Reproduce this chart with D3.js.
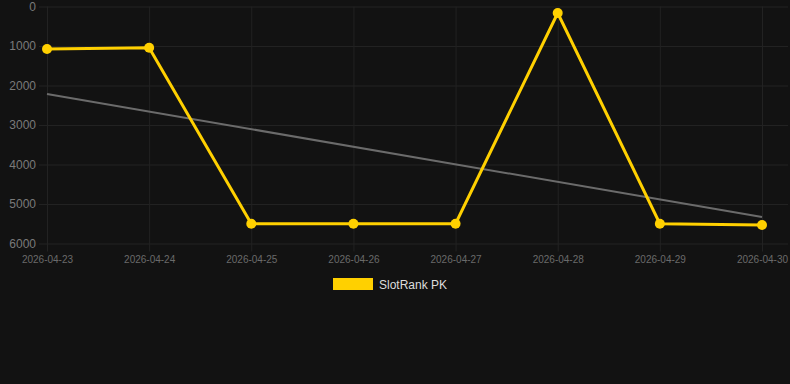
<!DOCTYPE html>
<html lang="en">
<head>
<meta charset="UTF-8"/>
<title>SlotRank PK</title>
<script src="https://d3js.org/d3.v7.min.js"></script>
<style>
    body { margin: 0; background: #121212; }
    .axis text { font-family: "Liberation Sans", Arial, sans-serif; }
    .axis path { display: none; }
    .axis line { stroke: #222222; }
</style>
</head>
<body>
<div id="chart"></div>
<script>
    var dates = ["2026-04-23", "2026-04-24", "2026-04-25", "2026-04-26", "2026-04-27", "2026-04-28", "2026-04-29", "2026-04-30"];
    var ranks = [1075, 1045, 5500, 5500, 5500, 165, 5500, 5530];
    var trend = [2215, 5330];
    var yTicks = [0, 1000, 2000, 3000, 4000, 5000, 6000];
    var seriesName = "SlotRank PK";

    var w = 790, h = 384;
    var padLeft = 47, padRight = 762, padTop = 6.5, padBottom = 243.5;

    let svg = d3.select("#chart").append("svg")
        .attr("width", w).attr("height", h);
    svg.append("rect").attr("width", w).attr("height", h).attr("fill", "#121212");

    let xScale = d3.scalePoint().domain(dates).range([padLeft, padRight]);
    let yScale = d3.scaleLinear().domain([0, 6000]).range([padTop, padBottom]);

    // horizontal grid + y labels
    let gridW = w - 2 - padLeft + 8;
    let yAxis = d3.axisLeft(yScale).tickValues(yTicks).tickFormat(d3.format("d"))
        .tickSize(0).tickPadding(0);
    let gy = svg.append("g").attr("class", "axis")
        .attr("transform", `translate(${padLeft - 8}, 0)`)
        .call(yAxis);
    gy.selectAll("line").attr("x1", 0).attr("x2", gridW);
    gy.selectAll("text").attr("fill", "#7a7a7a").attr("font-size", 12).attr("x", -3);

    // vertical grid + x labels
    let xAxis = d3.axisBottom(xScale).tickSize(0).tickPadding(0);
    let gx = svg.append("g").attr("class", "axis")
        .attr("transform", `translate(0, ${padBottom})`)
        .call(xAxis);
    gx.selectAll("line").attr("y1", 8).attr("y2", -(padBottom - padTop));
    gx.selectAll("text").attr("fill", "#6a6a6a").attr("font-size", 10).attr("y", 12);

    // trend line
    svg.append("line")
        .attr("x1", xScale(dates[0])).attr("y1", yScale(trend[0]))
        .attr("x2", xScale(dates[dates.length - 1])).attr("y2", yScale(trend[1]))
        .attr("stroke", "#6b6b6b").attr("stroke-width", 2);

    let line = d3.line()
        .x((d, i) => xScale(dates[i]))
        .y(d => yScale(d));
    svg.append("path").datum(ranks)
        .attr("d", line)
        .attr("fill", "none")
        .attr("stroke", "#ffd000")
        .attr("stroke-width", 3);

    svg.selectAll(".pt").data(ranks).enter().append("circle")
        .attr("cx", (d, i) => xScale(dates[i]))
        .attr("cy", d => yScale(d))
        .attr("r", 5)
        .attr("fill", "#ffd000");

    // legend
    svg.append("rect").attr("x", 333).attr("y", 278).attr("width", 40).attr("height", 12)
        .attr("fill", "#ffd000");
    svg.append("text").attr("x", 379).attr("y", 288.5)
        .attr("fill", "#dddddd").attr("font-size", 12)
        .attr("font-family", "'Liberation Sans', Arial, sans-serif")
        .text(seriesName);
</script>
</body>
</html>
